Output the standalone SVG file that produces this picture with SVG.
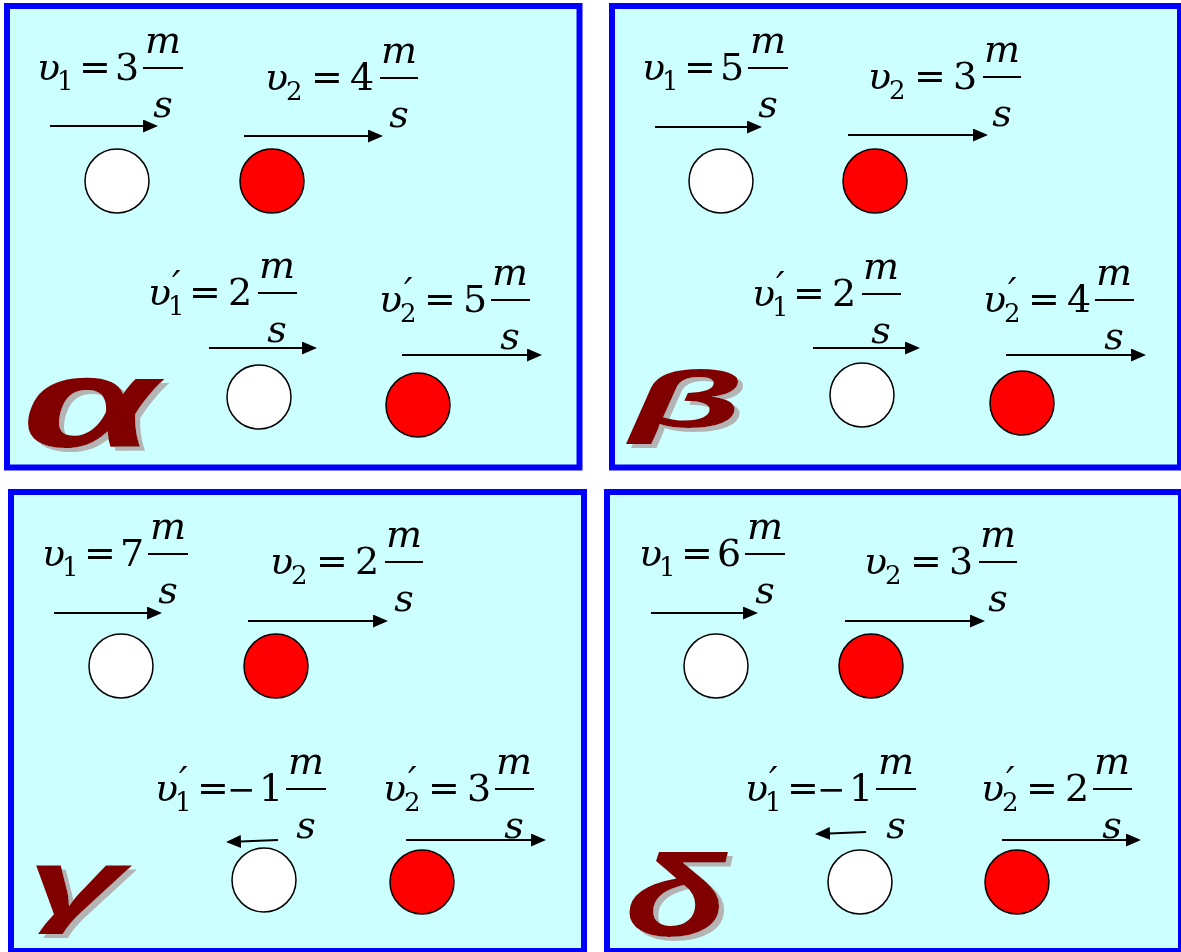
<svg xmlns="http://www.w3.org/2000/svg" width="1181" height="952" viewBox="0 0 1181 952">
<style>
.panel{fill:#CCFFFF;stroke:#0000FF;stroke-width:6}
.bar{stroke:#000;stroke-width:2}
.arr{stroke:#000;stroke-width:2;fill:none;marker-end:url(#ah)}
.wb{fill:#FFFFFF;stroke:#000;stroke-width:1.5}
.rb{fill:#FF0000;stroke:#000;stroke-width:1.5}
.it{font-style:italic}
.sb{font-size:26px;font-style:normal}
.pr{font-style:italic}
.mn{font-size:34px}
</style>
<defs>
<marker id="ah" markerUnits="userSpaceOnUse" markerWidth="15" markerHeight="13" refX="13" refY="6.5" orient="auto">
<path d="M0,0 L15,6.5 L0,13 Z" fill="#000"/>
</marker>
<filter id="sh" x="-10%" y="-10%" width="130%" height="130%">
<feFlood flood-color="#B4B4B4" result="c"/>
<feComposite in="c" in2="SourceAlpha" operator="in" result="s"/>
<feOffset in="s" dx="5" dy="4" result="o"/>
<feMerge><feMergeNode in="o"/><feMergeNode in="SourceGraphic"/></feMerge>
</filter>
</defs>

<g id="panel-alpha"><rect class="panel" x="7" y="6" width="572.5" height="461.5"/></g>
<g id="panel-beta"><rect class="panel" x="612" y="6" width="568" height="461.5"/></g>
<g id="panel-gamma"><rect class="panel" x="11" y="492" width="573" height="459"/></g>
<g id="panel-delta"><rect class="panel" x="607" y="492" width="574" height="459"/></g>

<g id="balls">
<circle id="a-b1" class="wb" cx="117" cy="181" r="32"/>
<circle id="a-b2" class="rb" cx="272" cy="181" r="32"/>
<circle id="a-b1p" class="wb" cx="259" cy="397" r="32"/>
<circle id="a-b2p" class="rb" cx="418" cy="405" r="32"/>
<circle id="b-b1" class="wb" cx="721" cy="181" r="32"/>
<circle id="b-b2" class="rb" cx="875" cy="181" r="32"/>
<circle id="b-b1p" class="wb" cx="862" cy="395" r="32"/>
<circle id="b-b2p" class="rb" cx="1022" cy="403" r="32"/>
<circle id="c-b1" class="wb" cx="121" cy="666" r="32"/>
<circle id="c-b2" class="rb" cx="276" cy="666" r="32"/>
<circle id="c-b1p" class="wb" cx="264" cy="880" r="32"/>
<circle id="c-b2p" class="rb" cx="422" cy="882" r="32"/>
<circle id="d-b1" class="wb" cx="716" cy="666" r="32"/>
<circle id="d-b2" class="rb" cx="871" cy="666" r="32"/>
<circle id="d-b1p" class="wb" cx="860" cy="882" r="32"/>
<circle id="d-b2p" class="rb" cx="1017" cy="882" r="32"/>
</g>

<g id="labels" font-family="'Liberation Sans', Arial, sans-serif" font-weight="bold" font-style="italic" fill="#800000" filter="url(#sh)">
<text id="a-label" font-size="128" transform="translate(22,447) scale(1.7,1)">α</text>
<text id="b-label" font-size="80" transform="translate(630,427) scale(2.3,1)">β</text>
<text id="c-label" font-size="92" transform="translate(27,915) scale(1.9,1)">γ</text>
<text id="d-label" font-size="116" transform="translate(625,936) scale(1.45,1)">δ</text>
</g>

<g id="formulas" font-family="DejaVu Serif" font-size="38" fill="#000">
<g id="a-v1"><text x="37" y="80"><tspan class="it">υ</tspan><tspan class="sb" x="57" y="90">1</tspan><tspan x="79" y="80">=</tspan><tspan x="115" y="80">3</tspan></text><line class="bar" x1="143" y1="68" x2="183" y2="68"/><text class="it" text-anchor="middle" x="163" y="53">m</text><text class="it" text-anchor="middle" x="163" y="117">s</text></g>
<g id="a-v2"><text x="265" y="90"><tspan class="it">υ</tspan><tspan class="sb" x="286" y="100">2</tspan><tspan x="311" y="90">=</tspan><tspan x="350" y="90">4</tspan></text><line class="bar" x1="380" y1="78" x2="418" y2="78"/><text class="it" text-anchor="middle" x="399" y="63">m</text><text class="it" text-anchor="middle" x="399" y="127">s</text></g>
<g id="a-v1p"><text x="148" y="305"><tspan class="it">υ</tspan><tspan class="pr" x="172" y="297">′</tspan><tspan class="sb" x="168" y="315">1</tspan><tspan x="189" y="305">=</tspan><tspan x="228" y="305">2</tspan></text><line class="bar" x1="258" y1="293" x2="297" y2="293"/><text class="it" text-anchor="middle" x="277" y="278">m</text><text class="it" text-anchor="middle" x="277" y="342">s</text></g>
<g id="a-v2p"><text x="379" y="312"><tspan class="it">υ</tspan><tspan class="pr" x="404" y="304">′</tspan><tspan class="sb" x="400" y="322">2</tspan><tspan x="424" y="312">=</tspan><tspan x="463" y="312">5</tspan></text><line class="bar" x1="491" y1="300" x2="530" y2="300"/><text class="it" text-anchor="middle" x="510" y="285">m</text><text class="it" text-anchor="middle" x="510" y="349">s</text></g>
<g id="b-v1"><text x="642" y="80"><tspan class="it">υ</tspan><tspan class="sb" x="662" y="90">1</tspan><tspan x="684" y="80">=</tspan><tspan x="720" y="80">5</tspan></text><line class="bar" x1="748" y1="68" x2="788" y2="68"/><text class="it" text-anchor="middle" x="768" y="53">m</text><text class="it" text-anchor="middle" x="768" y="117">s</text></g>
<g id="b-v2"><text x="868" y="89"><tspan class="it">υ</tspan><tspan class="sb" x="889" y="99">2</tspan><tspan x="914" y="89">=</tspan><tspan x="953" y="89">3</tspan></text><line class="bar" x1="983" y1="77" x2="1021" y2="77"/><text class="it" text-anchor="middle" x="1002" y="62">m</text><text class="it" text-anchor="middle" x="1002" y="126">s</text></g>
<g id="b-v1p"><text x="752" y="306"><tspan class="it">υ</tspan><tspan class="pr" x="776" y="298">′</tspan><tspan class="sb" x="772" y="316">1</tspan><tspan x="793" y="306">=</tspan><tspan x="832" y="306">2</tspan></text><line class="bar" x1="862" y1="294" x2="901" y2="294"/><text class="it" text-anchor="middle" x="881" y="279">m</text><text class="it" text-anchor="middle" x="881" y="343">s</text></g>
<g id="b-v2p"><text x="983" y="312"><tspan class="it">υ</tspan><tspan class="pr" x="1008" y="304">′</tspan><tspan class="sb" x="1004" y="322">2</tspan><tspan x="1028" y="312">=</tspan><tspan x="1067" y="312">4</tspan></text><line class="bar" x1="1095" y1="300" x2="1134" y2="300"/><text class="it" text-anchor="middle" x="1114" y="285">m</text><text class="it" text-anchor="middle" x="1114" y="349">s</text></g>
<g id="c-v1"><text x="42" y="566"><tspan class="it">υ</tspan><tspan class="sb" x="62" y="576">1</tspan><tspan x="84" y="566">=</tspan><tspan x="120" y="566">7</tspan></text><line class="bar" x1="148" y1="554" x2="188" y2="554"/><text class="it" text-anchor="middle" x="168" y="539">m</text><text class="it" text-anchor="middle" x="168" y="603">s</text></g>
<g id="c-v2"><text x="270" y="574"><tspan class="it">υ</tspan><tspan class="sb" x="291" y="584">2</tspan><tspan x="316" y="574">=</tspan><tspan x="355" y="574">2</tspan></text><line class="bar" x1="385" y1="562" x2="423" y2="562"/><text class="it" text-anchor="middle" x="404" y="547">m</text><text class="it" text-anchor="middle" x="404" y="611">s</text></g>
<g id="c-v1p"><text x="155" y="801"><tspan class="it">υ</tspan><tspan class="pr" x="179" y="793">′</tspan><tspan class="sb" x="175" y="811">1</tspan><tspan x="197" y="801">=</tspan><tspan class="mn" x="227" y="801">−</tspan><tspan x="259" y="801">1</tspan></text><line class="bar" x1="286" y1="789" x2="326" y2="789"/><text class="it" text-anchor="middle" x="306" y="774">m</text><text class="it" text-anchor="middle" x="306" y="838">s</text></g>
<g id="c-v2p"><text x="383" y="801"><tspan class="it">υ</tspan><tspan class="pr" x="408" y="793">′</tspan><tspan class="sb" x="404" y="811">2</tspan><tspan x="428" y="801">=</tspan><tspan x="467" y="801">3</tspan></text><line class="bar" x1="495" y1="789" x2="534" y2="789"/><text class="it" text-anchor="middle" x="514" y="774">m</text><text class="it" text-anchor="middle" x="514" y="838">s</text></g>
<g id="d-v1"><text x="639" y="566"><tspan class="it">υ</tspan><tspan class="sb" x="659" y="576">1</tspan><tspan x="681" y="566">=</tspan><tspan x="717" y="566">6</tspan></text><line class="bar" x1="745" y1="554" x2="785" y2="554"/><text class="it" text-anchor="middle" x="765" y="539">m</text><text class="it" text-anchor="middle" x="765" y="603">s</text></g>
<g id="d-v2"><text x="864" y="574"><tspan class="it">υ</tspan><tspan class="sb" x="885" y="584">2</tspan><tspan x="910" y="574">=</tspan><tspan x="949" y="574">3</tspan></text><line class="bar" x1="979" y1="562" x2="1017" y2="562"/><text class="it" text-anchor="middle" x="998" y="547">m</text><text class="it" text-anchor="middle" x="998" y="611">s</text></g>
<g id="d-v1p"><text x="745" y="801"><tspan class="it">υ</tspan><tspan class="pr" x="769" y="793">′</tspan><tspan class="sb" x="765" y="811">1</tspan><tspan x="787" y="801">=</tspan><tspan class="mn" x="817" y="801">−</tspan><tspan x="849" y="801">1</tspan></text><line class="bar" x1="876" y1="789" x2="916" y2="789"/><text class="it" text-anchor="middle" x="896" y="774">m</text><text class="it" text-anchor="middle" x="896" y="838">s</text></g>
<g id="d-v2p"><text x="981" y="801"><tspan class="it">υ</tspan><tspan class="pr" x="1006" y="793">′</tspan><tspan class="sb" x="1002" y="811">2</tspan><tspan x="1026" y="801">=</tspan><tspan x="1065" y="801">2</tspan></text><line class="bar" x1="1093" y1="789" x2="1132" y2="789"/><text class="it" text-anchor="middle" x="1112" y="774">m</text><text class="it" text-anchor="middle" x="1112" y="838">s</text></g>
</g>

<g id="connectors">
<line class="arr" x1="50" y1="126" x2="156" y2="126"/>
<line class="arr" x1="244" y1="136" x2="381" y2="136"/>
<line class="arr" x1="209" y1="348" x2="315" y2="348"/>
<line class="arr" x1="402" y1="355" x2="540" y2="355"/>
<line class="arr" x1="655" y1="127" x2="760" y2="127"/>
<line class="arr" x1="848" y1="135" x2="986" y2="135"/>
<line class="arr" x1="813" y1="348" x2="918" y2="348"/>
<line class="arr" x1="1006" y1="355" x2="1144" y2="355"/>
<line class="arr" x1="54" y1="613" x2="160" y2="613"/>
<line class="arr" x1="248" y1="621" x2="386" y2="621"/>
<line class="arr" x1="278" y1="840" x2="228" y2="842"/>
<line class="arr" x1="406" y1="840" x2="544" y2="840"/>
<line class="arr" x1="651" y1="613" x2="756" y2="613"/>
<line class="arr" x1="845" y1="621" x2="983" y2="621"/>
<line class="arr" x1="866" y1="832" x2="817" y2="834"/>
<line class="arr" x1="1002" y1="840" x2="1139" y2="840"/>
</g>
</svg>
